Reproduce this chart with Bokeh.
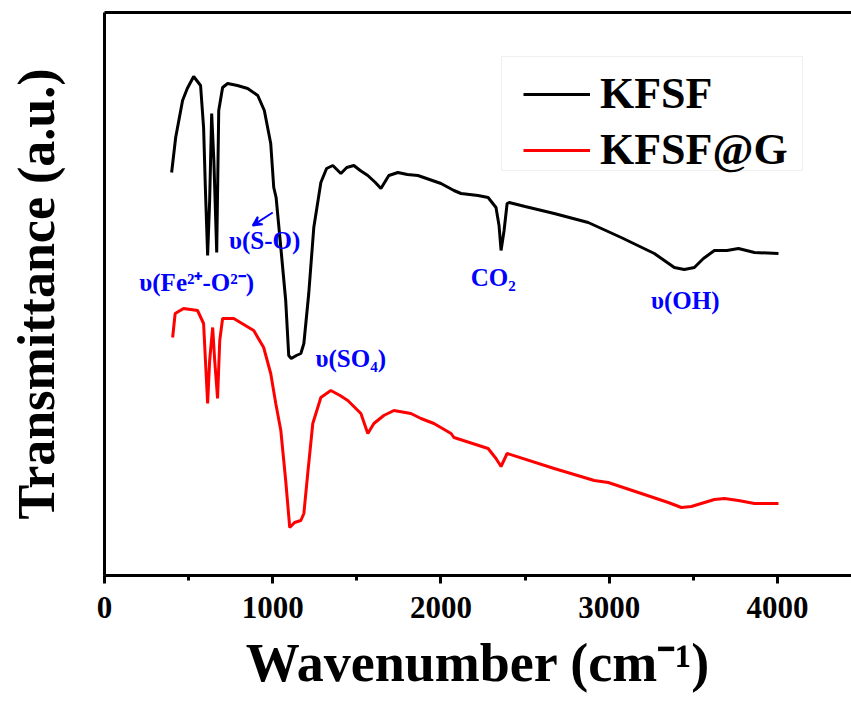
import math
from bokeh.plotting import figure
from bokeh.models import (Range1d, LinearAxis, Legend, LegendItem, Arrow, VeeHead,
                          BoxAnnotation, SingleIntervalTicker, FixedTicker, ColumnDataSource)
from bokeh.core.properties import value
from bokeh.embed import file_html
from bokeh.resources import INLINE

# ---------------- data (arbitrary transmittance units) -------------
wn_kfsf = [399, 423, 464, 492, 530, 571, 589, 600, 613, 625, 637, 650, 667, 679, 702, 732,
           790, 851, 911, 950, 988, 1006, 1020, 1048, 1077, 1095, 1110, 1140, 1167, 1185,
           1214, 1244, 1286, 1320, 1357, 1405, 1440, 1482, 1520, 1565, 1610, 1643, 1690,
           1744, 1800, 1863, 2000, 2077, 2119, 2220, 2280, 2327, 2345, 2357, 2375, 2393,
           2405, 2500, 2673, 2875, 3071, 3268, 3387, 3446, 3506, 3560, 3625, 3700, 3768,
           3863, 4006]
t_kfsf = [403, 438, 475, 487, 499, 490, 448, 385, 320, 375, 462, 415, 323, 465, 488, 492,
          490, 487, 480, 465, 432, 388, 378, 328, 275, 220, 217, 220, 222, 232,
          282, 348, 393, 407, 410, 402, 408, 410, 405, 400, 393, 387, 400,
          403, 401, 400, 392, 385, 382, 380, 378, 368, 350, 325, 345, 372,
          373, 369, 362, 353, 338, 322, 308, 306, 308, 317, 325, 325, 327,
          323, 322]

wn_kfsfg = [405, 420, 470, 553, 589, 600, 613, 625, 643, 655, 672, 685, 702, 768, 887, 946,
            988, 1010, 1018, 1048, 1077, 1101, 1130, 1167, 1185, 1208, 1238, 1286, 1345,
            1400, 1446, 1524, 1565, 1601, 1660, 1720, 1821, 1881, 1958, 2060, 2077, 2280,
            2327, 2357, 2393, 2673, 2911, 2994, 3173, 3351, 3429, 3488, 3625, 3685, 3768,
            3863, 4006]
t_kfsfg = [238, 262, 267, 265, 252, 215, 172, 215, 248, 215, 177, 235, 257, 257, 245, 228,
           202, 180, 172, 145, 95, 48, 53, 55, 62, 102, 152, 178, 185,
           180, 175, 162, 142, 152, 160, 165, 162, 157, 152, 142, 138, 127,
           117, 109, 122, 107, 95, 93, 83, 73, 68, 69, 76, 77, 75,
           72, 72]

series_names = ["KFSF", "KFSF@G"]
series_colors = ["#000000", "#ff0000"]

x_title = "Wavenumber (cm\u207b\u00b9)"
y_title = "Transmittance (a.u.)"

ann_texts = ["\u03c5(Fe\u00b2\u207a-O\u00b2\u207b)", "\u03c5(S-O)", "\u03c5(SO\u2084)", "CO\u2082", "\u03c5(OH)"]
ann_x = [548, 952, 1464, 2310, 3452]
ann_y = [293, 335, 217, 298, 275]

# arrow for v(S-O)
arrow_start = (1000, 363)
arrow_end = (881, 350)

FONT = "Liberation Serif"

p = figure(frame_width=747, frame_height=563,
           min_border_left=104, min_border_right=0, min_border_top=12, min_border_bottom=133,
           x_range=Range1d(0, 4440), y_range=Range1d(0, 563),
           output_backend="svg", toolbar_location=None, tools="")

p.outline_line_color = None
p.xgrid.visible = False
p.ygrid.visible = False
p.background_fill_color = "white"
p.border_fill_color = "white"

# x axis
xa = p.xaxis[0]
xa.ticker = SingleIntervalTicker(interval=1000, num_minor_ticks=2)
xa.axis_label = x_title
xa.axis_label_text_font = FONT
xa.axis_label_text_font_style = "bold"
xa.axis_label_text_font_size = "54px"
xa.axis_label_text_color = "black"
xa.axis_label_standoff = 12
xa.major_label_text_font = FONT
xa.major_label_text_font_style = "bold"
xa.major_label_text_font_size = "31px"
xa.major_label_text_color = "black"
xa.major_label_standoff = 13
xa.axis_line_width = 3
xa.major_tick_line_width = 3
xa.minor_tick_line_width = 3
xa.major_tick_out = 8
xa.major_tick_in = 0
xa.minor_tick_out = 5
xa.minor_tick_in = 0

# y axis (no ticks)
ya = p.yaxis[0]
ya.ticker = FixedTicker(ticks=[])
ya.axis_label = y_title
ya.axis_label_text_font = FONT
ya.axis_label_text_font_style = "bold"
ya.axis_label_text_font_size = "52px"
ya.axis_label_text_color = "black"
ya.axis_label_standoff = 40
ya.major_tick_line_color = None
ya.minor_tick_line_color = None
ya.axis_line_width = 3

# top border as an axis without ticks
top = LinearAxis(ticker=FixedTicker(ticks=[]), major_tick_line_color=None,
                 minor_tick_line_color=None, axis_line_width=3)
p.add_layout(top, "above")

r1 = p.line(wn_kfsf, t_kfsf, line_color=series_colors[0], line_width=3)
r2 = p.line(wn_kfsfg, t_kfsfg, line_color=series_colors[1], line_width=3)

src = ColumnDataSource(dict(x=ann_x, y=ann_y, t=ann_texts))
p.text(x="x", y="y", text="t", source=src, text_font=value(FONT), text_font_style="bold",
       text_font_size="25px", text_color="#0000ff", text_align="center", text_baseline="middle")

p.add_layout(Arrow(end=VeeHead(size=9, line_color="#0000ff", fill_color="#0000ff", line_width=2),
                   x_start=arrow_start[0], y_start=arrow_start[1],
                   x_end=arrow_end[0], y_end=arrow_end[1],
                   line_color="#0000ff", line_width=2))

# legend frame
p.add_layout(BoxAnnotation(left=397, right=698, bottom=405, top=519,
                           left_units="screen", right_units="screen",
                           bottom_units="screen", top_units="screen",
                           fill_color="white", fill_alpha=1.0,
                           line_color="#cccccc", line_width=1))

legend = Legend(items=[LegendItem(label=series_names[0], renderers=[r1]),
                       LegendItem(label=series_names[1], renderers=[r2])],
                location=(419, 400))
legend.label_text_font = FONT
legend.label_text_font_style = "bold"
legend.label_text_font_size = "44px"
legend.label_text_color = "black"
legend.glyph_width = 67
legend.glyph_height = 40
legend.label_height = 40
legend.label_standoff = 10
legend.spacing = 5
legend.padding = 0
legend.margin = 0
legend.border_line_color = None
legend.background_fill_alpha = 0
p.add_layout(legend, "center")

open("out.html", "w").write(file_html(p, INLINE))
